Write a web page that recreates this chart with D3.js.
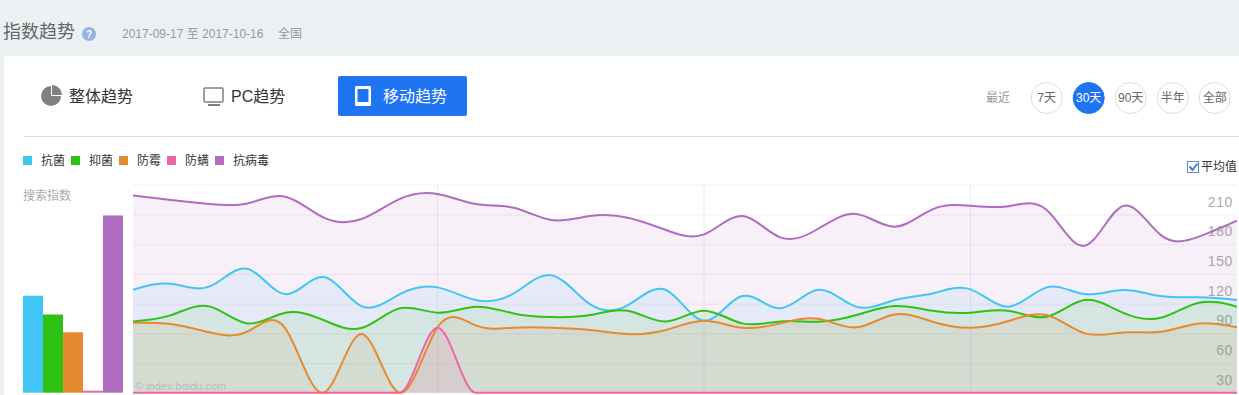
<!DOCTYPE html>
<html><head><meta charset="utf-8">
<script src="https://cdn.jsdelivr.net/npm/d3@7/dist/d3.min.js"></script>
<style>
html,body{margin:0;padding:0;background:#ebf0f3;overflow:hidden}
svg{display:block}
text{font-family:"Liberation Sans","Noto Sans CJK SC",sans-serif}
</style></head><body>
<svg id="c" width="1239" height="395"></svg>
<script>
const seriesNames = ["抗菌","抑菌","防霉","防螨","抗病毒"];
const seriesColors = ["#41c5f5","#2ec214","#e68a2f","#f064a6","#b06cc0"];
const averages = [128,109,91,32,209];
const yTicks = [30,60,90,120,150,180,210];
const gridMarks = [8,15,22];
const rangeButtons = ["7天","30天","90天","半年","全部"];

const kangjun = [134.0,140.1,137.1,155.2,129.6,146.8,117.5,129.3,136.4,123.6,130.3,148.5,119.5,118.5,133.7,102.7,127.6,115.2,134.0,116.9,123.6,130.3,134.4,116.9,136.4,129.6,133.7,127.6,126.3,123.6];
const yijun = [102,108.4,117.2,100,110.8,103.4,95.3,115.2,110.8,116.9,110.1,106.4,108.4,112.8,102,112.8,100,102,101.7,108.4,117.5,112.8,110.8,112.8,106.8,123.6,110.8,105.7,120.9,116.9];
const fangmei = [100.7,99.3,91,91.6,95,30,89.2,30,96,98,95.6,95.6,93.3,89.2,93.3,102.7,95.6,100,104.7,96,109.1,101.7,95.6,102.4,108.4,89.9,90.9,91.6,100,96];
const fangman = [30,30,30,30,30,30,30,30,95.6,30,30,30,30,30,30,30,30,30,30,30,30,30,30,30,30,30,30,30,30,30];
const kangbingdu = [229.3,224.6,220.6,221.2,228,207.1,205.4,225.6,230.7,220.6,216.9,204.4,208.4,206.8,194.3,189.9,208.4,186.9,195.6,210.5,197.7,215.2,218.9,218.4,214.5,178.5,218.5,189.2,187.6,203.7];
const allSeries = [kangjun,yijun,fangmei,fangman,kangbingdu];

const svg = d3.select("#c");
const BLUE = "#1f74f2";
const txt = (s,x,y,size,fill,anchor) => svg.append("text").text(s).attr("x",x).attr("y",y)
  .attr("font-size",size).attr("fill",fill).attr("text-anchor",anchor||"start").attr("dominant-baseline","central");

// page frame
svg.append("rect").attr("x",4).attr("y",56).attr("width",1235).attr("height",339).attr("fill","#fff");
txt("指数趋势",3,32,18,"#666");
svg.append("circle").attr("cx",89).attr("cy",34).attr("r",7).attr("fill","#93b3e3");
txt("?",89,34,10,"#fff","middle").attr("font-weight","bold");
txt("2017-09-17 至 2017-10-16",122,34,12,"#999");
txt("全国",278,34,12,"#999");

// tabs
const pie = d3.arc().innerRadius(0).outerRadius(10);
svg.append("path").attr("d",pie({startAngle:Math.PI*0.5,endAngle:Math.PI*2})).attr("transform","translate(51,96)").attr("fill","#808080");
svg.append("path").attr("d",pie({startAngle:0,endAngle:Math.PI*0.5})).attr("transform","translate(52,95)").attr("fill","#808080");
txt("整体趋势",69,96,16,"#333");
svg.append("rect").attr("x",204).attr("y",88).attr("width",19).attr("height",14).attr("rx",1).attr("fill","none").attr("stroke","#808080").attr("stroke-width",1.5);
svg.append("rect").attr("x",208).attr("y",104).attr("width",12).attr("height",2).attr("fill","#808080");
txt("PC趋势",231,96,16,"#333");
svg.append("rect").attr("x",338).attr("y",76).attr("width",129).attr("height",40).attr("rx",2).attr("fill",BLUE);
svg.append("rect").attr("x",355).attr("y",86).attr("width",16).attr("height",20).attr("rx",1.5).attr("fill","#fff");
svg.append("rect").attr("x",357.5).attr("y",89).attr("width",11).attr("height",13).attr("fill",BLUE);
txt("移动趋势",383,96,16,"#fff");
svg.append("line").attr("x1",24).attr("x2",1239).attr("y1",136.5).attr("y2",136.5).attr("stroke","#ddd");

// range buttons
txt("最近",986,98,12,"#999");
const btnX = d3.scalePoint().domain(rangeButtons).range([1046.7,1214.7]);
rangeButtons.forEach(b=>{
  const on = b==="30天";
  svg.append("circle").attr("cx",btnX(b)).attr("cy",98).attr("r",15.5).attr("fill",on?BLUE:"#fff").attr("stroke",on?BLUE:"#ddd");
  txt(b,btnX(b),98,12,on?"#fff":"#666","middle");
});

// legend
seriesNames.forEach((n,i)=>{
  svg.append("rect").attr("x",23+48*i).attr("y",156).attr("width",9).attr("height",9).attr("fill",seriesColors[i]);
  txt(n,41+48*i,161,12,"#333");
});
svg.append("rect").attr("x",1187.5).attr("y",161.5).attr("width",11).attr("height",11).attr("fill","#fff").attr("stroke","#5b8fd0");
svg.append("path").attr("d","M1189.5 166.5 L1192.5 170 L1197.5 163.5").attr("fill","none").attr("stroke","#3f7fd6").attr("stroke-width",2);
txt("平均值",1201,167,12,"#333");
txt("搜索指数",23,196,12,"#aaa");

// scales
const y = d3.scaleLinear().domain([30,240]).range([392.7,184.8]);
const x = d3.scaleLinear().domain([0,29]).range([133,1237]);
const bx = d3.scaleBand().domain(seriesNames).range([23,123]);

// bars
svg.append("g").selectAll("rect").data(averages).join("rect")
  .attr("x",(d,i)=>bx(seriesNames[i])).attr("width",bx.bandwidth())
  .attr("y",d=>y(d)).attr("height",d=>y(30)-y(d)).attr("fill",(d,i)=>seriesColors[i]);

// grid
const axis = d3.axisRight(y).tickValues(yTicks.concat([240])).tickSize(-(1237-133)).tickFormat(d=>d===240?"":d);
const ag = svg.append("g").attr("transform","translate(1237,0)").call(axis);
ag.select(".domain").remove();
ag.selectAll("line").attr("stroke","#f1eff3");
ag.selectAll("text").attr("x",-4).attr("dy",-13.5).attr("dominant-baseline","central").attr("text-anchor","end")
  .attr("font-size",14).attr("fill","#aaa").attr("letter-spacing",".6px").attr("font-family","Liberation Sans");
svg.append("g").selectAll("line").data(gridMarks).join("line")
  .attr("x1",d=>x(d)).attr("x2",d=>x(d)).attr("y1",184.8).attr("y2",392.7).attr("stroke","#eeeaf0");

// series
svg.append("defs").append("clipPath").attr("id","pc").append("rect").attr("x",133).attr("y",180).attr("width",1104).attr("height",214);
const plot = svg.append("g").attr("clip-path","url(#pc)");
const curveFor = i => i===3 ? d3.curveMonotoneX : d3.curveNatural;
allSeries.forEach((s,i)=>{
  const area = d3.area().x((d,j)=>x(j)).y0(y(30)).y1(d=>y(d)).curve(curveFor(i));
  plot.append("path").attr("d",area(s)).attr("fill",seriesColors[i]).attr("fill-opacity",.1);
});
allSeries.forEach((s,i)=>{
  const line = d3.line().x((d,j)=>x(j)).y(d=>y(d)).curve(curveFor(i));
  plot.append("path").attr("d",line(s)).attr("fill","none").attr("stroke",seriesColors[i]).attr("stroke-width",2);
});
txt("© index.baidu.com",135,386,11,"#bbb");
</script>
</body></html>
